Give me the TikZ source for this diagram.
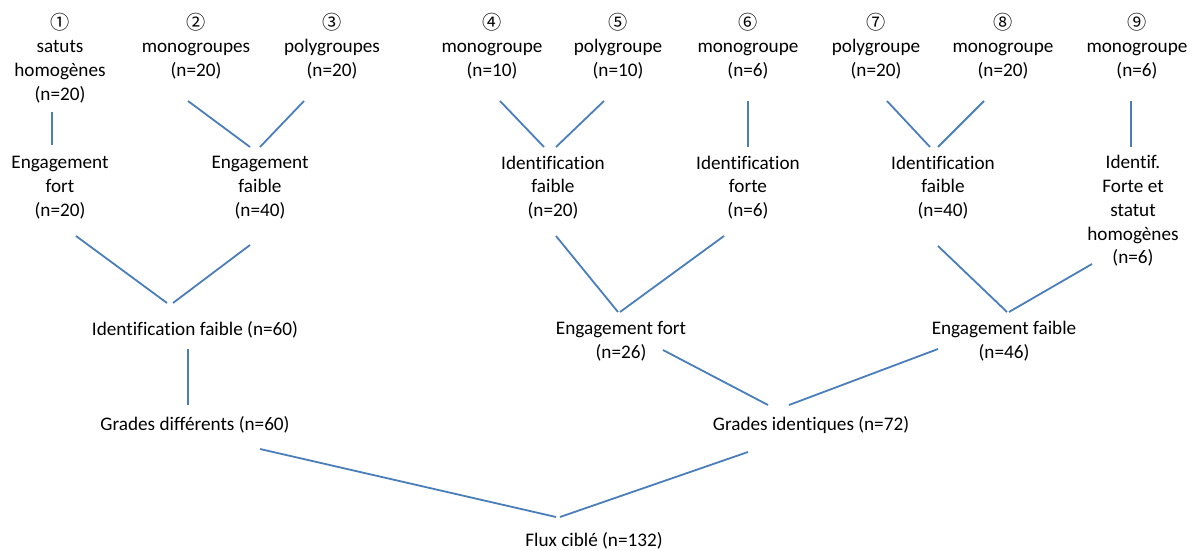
\documentclass[tikz,border=0pt]{standalone}
\usepackage{fontspec}
\setmainfont{Carlito}[Ligatures={NoCommon,NoContextual}]
\newfontfamily\circfont{Noto Sans CJK JP}
\definecolor{linkblue}{RGB}{74,126,187}
\begin{document}
\begin{tikzpicture}[x=1pt,y=-1pt,
  lbl/.style={inner sep=0pt, align=center, font=\fontsize{19.2}{23.7}\selectfont},
  link/.style={draw=linkblue, line width=1.8pt}]
\useasboundingbox (0,0) rectangle (1195,551);
% top row
\node[lbl] (n1) at (60,58) {{\circfont ①}\\satuts\\homogènes\\(n=20)};
\node[lbl] (n2) at (196,46) {{\circfont ②}\\monogroupes\\(n=20)};
\node[lbl] (n3) at (332,46) {{\circfont ③}\\polygroupes\\(n=20)};
\node[lbl] (n4) at (492,46) {{\circfont ④}\\monogroupe\\(n=10)};
\node[lbl] (n5) at (618,46) {{\circfont ⑤}\\polygroupe\\(n=10)};
\node[lbl] (n6) at (748,46) {{\circfont ⑥}\\monogroupe\\(n=6)};
\node[lbl] (n7) at (876,46) {{\circfont ⑦}\\polygroupe\\(n=20)};
\node[lbl] (n8) at (1003,46) {{\circfont ⑧}\\monogroupe\\(n=20)};
\node[lbl] (n9) at (1137,46) {{\circfont ⑨}\\monogroupe\\(n=6)};
% second row
\node[lbl] (e1) at (60,187.5) {Engagement\\fort\\(n=20)};
\node[lbl] (e2) at (260,187.5) {Engagement\\faible\\(n=40)};
\node[lbl] (i1) at (553,187.5) {Identification\\faible\\(n=20)};
\node[lbl] (i2) at (748,187.5) {Identification\\forte\\(n=6)};
\node[lbl] (i3) at (943,187.5) {Identification\\faible\\(n=40)};
\node[lbl] (i4) at (1133,211) {Identif.\\Forte et\\statut\\homogènes\\(n=6)};
% third row
\node[lbl] (a1) at (195,330) {Identification faible (n=60)};
\node[lbl] (a2) at (621,341.5) {Engagement fort\\(n=26)};
\node[lbl] (a3) at (1004,341.5) {Engagement faible\\(n=46)};
% fourth row
\node[lbl] (g1) at (195,425) {Grades différents (n=60)};
\node[lbl] (g2) at (811,425) {Grades identiques (n=72)};
% bottom
\node[lbl] (f) at (594,540.5) {Flux ciblé (n=132)};
% connector end points
\coordinate (n1b) at (52,112);  \coordinate (e1t) at (52,145);
\coordinate (n2b) at (188,101); \coordinate (e2tl) at (250,147);
\coordinate (n3b) at (304,101); \coordinate (e2tr) at (260,147);
\coordinate (n4b) at (500,101); \coordinate (i1tl) at (544,147);
\coordinate (n5b) at (604,101); \coordinate (i1tr) at (556,147);
\coordinate (n6b) at (748,101); \coordinate (i2t) at (748,147);
\coordinate (n7b) at (887,101); \coordinate (i3tl) at (930,147);
\coordinate (n8b) at (984,101); \coordinate (i3tr) at (938,147);
\coordinate (n9b) at (1131,101); \coordinate (i4t) at (1131,147);
\coordinate (e1b) at (76,236);  \coordinate (a1tl) at (167,303);
\coordinate (e2b) at (250,245); \coordinate (a1tr) at (173,303);
\coordinate (i1b) at (556,236); \coordinate (a2tl) at (618,312);
\coordinate (i2b) at (724,236); \coordinate (a2tr) at (620,312);
\coordinate (i3b) at (938,246); \coordinate (a3tl) at (1007,312);
\coordinate (i4b) at (1092,264); \coordinate (a3tr) at (1009,312);
\coordinate (a1b) at (188,349); \coordinate (g1t) at (188,405);
\coordinate (a2b) at (663,350); \coordinate (g2tl) at (768,405);
\coordinate (a3b) at (938,349); \coordinate (g2tr) at (789,405);
\coordinate (g1b) at (260,449); \coordinate (ftl) at (556,517);
\coordinate (g2b) at (748,452); \coordinate (ftr) at (560,517);
% connectors
\draw[link] (n1b) -- (e1t);
\draw[link] (n2b) -- (e2tl);
\draw[link] (n3b) -- (e2tr);
\draw[link] (n4b) -- (i1tl);
\draw[link] (n5b) -- (i1tr);
\draw[link] (n6b) -- (i2t);
\draw[link] (n7b) -- (i3tl);
\draw[link] (n8b) -- (i3tr);
\draw[link] (n9b) -- (i4t);
\draw[link] (e1b) -- (a1tl);
\draw[link] (e2b) -- (a1tr);
\draw[link] (i1b) -- (a2tl);
\draw[link] (i2b) -- (a2tr);
\draw[link] (i3b) -- (a3tl);
\draw[link] (i4b) -- (a3tr);
\draw[link] (a1b) -- (g1t);
\draw[link] (a2b) -- (g2tl);
\draw[link] (a3b) -- (g2tr);
\draw[link] (g1b) -- (ftl);
\draw[link] (g2b) -- (ftr);
\end{tikzpicture}
\end{document}
